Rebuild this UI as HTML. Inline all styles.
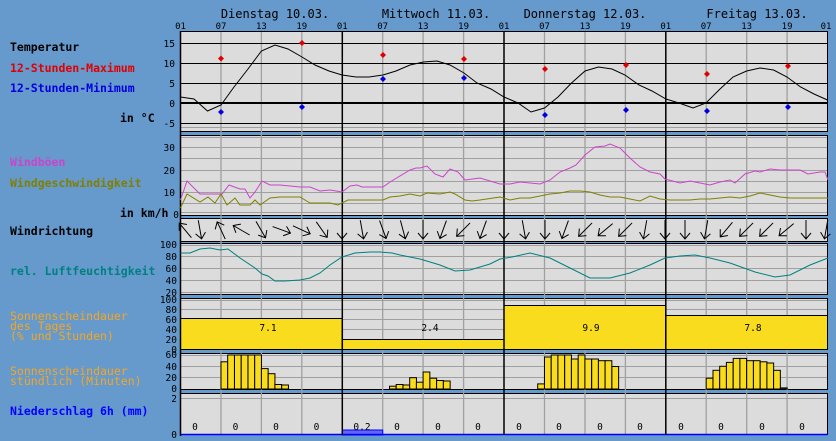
<!DOCTYPE html>
<html><head><meta charset="utf-8"><style>
html,body{margin:0;padding:0;background:#6699cc;}
svg{display:block;}
text{font-family:"DejaVu Sans Mono","Liberation Mono",monospace;}
.lb{font-size:11.5px;font-weight:bold;}
.lo{font-size:11.5px;fill:#f5a623;}
.tk{font-size:9.5px;fill:#000;}
.hr{font-size:9px;fill:#000;}
</style></head><body>
<svg width="836" height="441" viewBox="0 0 836 441" xmlns="http://www.w3.org/2000/svg">
<rect width="836" height="441" fill="#6699cc"/>
<!-- header -->
<g font-size="12" fill="#000">
<text x="275" y="18" text-anchor="middle" font-family="DejaVu Sans Mono">Dienstag 10.03.</text>
<text x="436" y="18" text-anchor="middle" font-family="DejaVu Sans Mono">Mittwoch 11.03.</text>
<text x="585" y="18" text-anchor="middle" font-family="DejaVu Sans Mono">Donnerstag 12.03.</text>
<text x="757" y="18" text-anchor="middle" font-family="DejaVu Sans Mono">Freitag 13.03.</text>
</g>
<g class="hr" text-anchor="middle">
<text x="180.5" y="29" class="hr">01</text><text x="221" y="29" class="hr">07</text><text x="261.4" y="29" class="hr">13</text><text x="301.8" y="29" class="hr">19</text>
<text x="342.3" y="29" class="hr">01</text><text x="382.7" y="29" class="hr">07</text><text x="423.1" y="29" class="hr">13</text><text x="463.6" y="29" class="hr">19</text>
<text x="504" y="29" class="hr">01</text><text x="544.5" y="29" class="hr">07</text><text x="585" y="29" class="hr">13</text><text x="625.4" y="29" class="hr">19</text>
<text x="665.8" y="29" class="hr">01</text><text x="706.2" y="29" class="hr">07</text><text x="746.7" y="29" class="hr">13</text><text x="787.1" y="29" class="hr">19</text>
<text x="826" y="29" class="hr">01</text>
</g>

<!-- left labels -->
<text x="10" y="51" class="lb" fill="#000">Temperatur</text>
<text x="10" y="72" class="lb" fill="#e00000">12-Stunden-Maximum</text>
<text x="10" y="92" class="lb" fill="#0000e0">12-Stunden-Minimum</text>
<text x="120" y="122" class="lb" fill="#000">in °C</text>
<text x="10" y="166" class="lb" fill="#cc44cc">Windböen</text>
<text x="10" y="187" class="lb" fill="#808000">Windgeschwindigkeit</text>
<text x="120" y="217" class="lb" fill="#000">in km/h</text>
<text x="10" y="235" class="lb" fill="#000">Windrichtung</text>
<text x="10" y="275" class="lb" fill="#008080">rel. Luftfeuchtigkeit</text>
<text x="10" y="320" class="lo">Sonnenscheindauer</text>
<text x="10" y="330" class="lo">des Tages</text>
<text x="10" y="340" class="lo">(% und Stunden)</text>
<text x="10" y="375" class="lo">Sonnenscheindauer</text>
<text x="10" y="385" class="lo">stündlich (Minuten)</text>
<text x="10" y="415" class="lb" fill="#0000ff">Niederschlag 6h (mm)</text>

<!-- panel backgrounds -->
<g fill="#dcdcdc" stroke="#000" stroke-width="1">
<rect x="180.5" y="31.5" width="647" height="100"/>
<rect x="180.5" y="135.5" width="647" height="80"/>
<rect x="180.5" y="218.5" width="647" height="23"/>
<rect x="180.5" y="243.5" width="647" height="51"/>
<rect x="180.5" y="298.5" width="647" height="51"/>
<rect x="180.5" y="353.5" width="647" height="36"/>
<rect x="180.5" y="393.5" width="647" height="41"/>
</g>

<!-- horizontal grids -->
<g stroke="#a0a0a0" stroke-width="1">
<line x1="181" x2="827" y1="127.5" y2="127.5"/>
<line x1="181" x2="827" y1="203.5" y2="203.5"/><line x1="181" x2="827" y1="192.5" y2="192.5"/><line x1="181" x2="827" y1="181.5" y2="181.5"/><line x1="181" x2="827" y1="170.5" y2="170.5"/><line x1="181" x2="827" y1="158.5" y2="158.5"/><line x1="181" x2="827" y1="147.5" y2="147.5"/><line x1="181" x2="827" y1="137.5" y2="137.5"/><line x1="181" x2="827" y1="212.5" y2="212.5"/>
<line x1="181" x2="827" y1="256.5" y2="256.5"/><line x1="181" x2="827" y1="268.5" y2="268.5"/><line x1="181" x2="827" y1="280.5" y2="280.5"/><line x1="181" x2="827" y1="292.5" y2="292.5"/><line x1="181" x2="827" y1="245.5" y2="245.5"/>
<line x1="181" x2="827" y1="309.5" y2="309.5"/><line x1="181" x2="827" y1="319.5" y2="319.5"/><line x1="181" x2="827" y1="329.5" y2="329.5"/><line x1="181" x2="827" y1="339.5" y2="339.5"/><line x1="181" x2="827" y1="300.5" y2="300.5"/>
<line x1="181" x2="827" y1="366.5" y2="366.5"/><line x1="181" x2="827" y1="377.5" y2="377.5"/><line x1="181" x2="827" y1="355.5" y2="355.5"/>
<line x1="181" x2="827" y1="398.5" y2="398.5"/>
</g>
<!-- vertical grids gray -->
<g stroke="#a0a0a0" stroke-width="1.3">
<line x1="221" x2="221" y1="32" y2="435"/><line x1="261.4" x2="261.4" y1="32" y2="435"/><line x1="301.8" x2="301.8" y1="32" y2="435"/>
<line x1="382.7" x2="382.7" y1="32" y2="435"/><line x1="423.1" x2="423.1" y1="32" y2="435"/><line x1="463.6" x2="463.6" y1="32" y2="435"/>
<line x1="544.5" x2="544.5" y1="32" y2="435"/><line x1="585" x2="585" y1="32" y2="435"/><line x1="625.4" x2="625.4" y1="32" y2="435"/>
<line x1="706.2" x2="706.2" y1="32" y2="435"/><line x1="746.7" x2="746.7" y1="32" y2="435"/><line x1="787.1" x2="787.1" y1="32" y2="435"/>
</g>
<!-- temp grid black -->
<g stroke="#000" stroke-width="1">
<line x1="181" x2="827" y1="43.5" y2="43.5"/><line x1="181" x2="827" y1="63.5" y2="63.5"/><line x1="181" x2="827" y1="83.5" y2="83.5"/><line x1="181" x2="827" y1="123.5" y2="123.5"/>
<line x1="181" x2="827" y1="103" y2="103" stroke-width="2"/>
</g>

<!-- sunshine daily bars -->
<g fill="#fadc1e" stroke="#000" stroke-width="1">
<rect x="180.5" y="318.5" width="161.8" height="31"/>
<rect x="342.3" y="339.5" width="161.7" height="10"/>
<rect x="504" y="305.5" width="161.8" height="44"/>
<rect x="665.8" y="315.5" width="161.7" height="34"/>
</g>
<g font-size="9.5" text-anchor="middle" fill="#000">
<text x="268" y="331" font-family="DejaVu Sans Mono">7.1</text>
<text x="430" y="331" font-family="DejaVu Sans Mono">2.4</text>
<text x="591" y="331" font-family="DejaVu Sans Mono">9.9</text>
<text x="753" y="331" font-family="DejaVu Sans Mono">7.8</text>
</g>

<!-- hourly sunshine bars -->
<g fill="#fadc1e" stroke="#000" stroke-width="1">
<rect x="221" y="361.8" width="6.74" height="27.2"/><rect x="227.7" y="355" width="6.74" height="34"/><rect x="234.5" y="355" width="6.74" height="34"/><rect x="241.2" y="355" width="6.74" height="34"/><rect x="248" y="355" width="6.74" height="34"/><rect x="254.7" y="355" width="6.74" height="34"/><rect x="261.4" y="368.6" width="6.74" height="20.4"/><rect x="268.2" y="373.7" width="6.74" height="15.3"/><rect x="274.9" y="384.5" width="6.74" height="4.5"/><rect x="281.7" y="385" width="6.74" height="4"/>
<rect x="389.5" y="386.2" width="6.74" height="2.8"/><rect x="396.2" y="384.5" width="6.74" height="4.5"/><rect x="403" y="385" width="6.74" height="4"/><rect x="409.7" y="377.7" width="6.74" height="11.3"/><rect x="416.4" y="382.2" width="6.74" height="6.8"/><rect x="423.1" y="372" width="6.74" height="17"/><rect x="429.9" y="378.2" width="6.74" height="10.8"/><rect x="436.6" y="380.5" width="6.74" height="8.5"/><rect x="443.4" y="381" width="6.74" height="8"/>
<rect x="537.7" y="383.9" width="6.74" height="5.1"/><rect x="544.5" y="357" width="6.74" height="32"/><rect x="551.2" y="355" width="6.74" height="34"/><rect x="557.9" y="355" width="6.74" height="34"/><rect x="564.7" y="355" width="6.74" height="34"/><rect x="571.4" y="359" width="6.74" height="30"/><rect x="578.2" y="355" width="6.74" height="34"/><rect x="584.9" y="359" width="6.74" height="30"/><rect x="591.7" y="359" width="6.74" height="30"/><rect x="598.4" y="360.7" width="6.74" height="28.3"/><rect x="605.1" y="360.7" width="6.74" height="28.3"/><rect x="611.9" y="366.5" width="6.74" height="22.5"/>
<rect x="706.2" y="378.2" width="6.74" height="10.8"/><rect x="713" y="370.3" width="6.74" height="18.7"/><rect x="719.7" y="366.3" width="6.74" height="22.7"/><rect x="726.4" y="362.4" width="6.74" height="26.6"/><rect x="733.2" y="358.4" width="6.74" height="30.6"/><rect x="739.9" y="358.4" width="6.74" height="30.6"/><rect x="746.7" y="360.7" width="6.74" height="28.3"/><rect x="753.4" y="360.7" width="6.74" height="28.3"/><rect x="760.2" y="361.8" width="6.74" height="27.2"/><rect x="766.9" y="363" width="6.74" height="26"/><rect x="773.6" y="370.3" width="6.74" height="18.7"/><rect x="780.4" y="387.9" width="6.74" height="1.1"/>
</g>

<!-- precipitation -->
<rect x="342.3" y="430" width="40.4" height="5" fill="#6666ff" stroke="#0000ff" stroke-width="1"/>
<line x1="180.5" x2="827.5" y1="434.5" y2="434.5" stroke="#0000ff" stroke-width="1.5"/>
<g font-size="9.5" text-anchor="middle" fill="#000" font-family="DejaVu Sans Mono">
<text x="195" y="430">0</text><text x="235.5" y="430">0</text><text x="276" y="430">0</text><text x="316.5" y="430">0</text>
<text x="362" y="430">0.2</text><text x="397" y="430">0</text><text x="438" y="430">0</text><text x="478" y="430">0</text>
<text x="519" y="430">0</text><text x="559" y="430">0</text><text x="600" y="430">0</text><text x="640" y="430">0</text>
<text x="681" y="430">0</text><text x="721" y="430">0</text><text x="762" y="430">0</text><text x="802" y="430">0</text>
</g>

<!-- day boundary lines -->
<g stroke="#000" stroke-width="1.5">
<line x1="342.3" x2="342.3" y1="31" y2="435"/><line x1="504" x2="504" y1="31" y2="435"/><line x1="665.8" x2="665.8" y1="31" y2="435"/>
<line x1="180.5" x2="180.5" y1="31" y2="436"/>
</g>

<!-- temperature curve -->
<polyline fill="none" stroke="#000" stroke-width="1" points="180.5,97 194,99 207.5,111 221,105 234,87 248,69 261.4,51 275,45 288,49 302,57 315,65 329,71 342,75 356,77 369,77 383,75 396,71 410,65 423.5,62 437,61 450,65 464,73 477,83 491,89 504,97 518,103 531,112 544.5,108 558,97 571.5,83 585,71 598.5,67 612,69 625,75 639,85 652,91 666,99 679,103 693,108 706,103 720,89 733,77 746.6,71 760,68 773.6,70 787,77 800.6,87 814,94 827.5,100"/>
<!-- markers -->
<g fill="#e00000">
<path d="M221,55.5 l3,3 -3,3 -3,-3z"/><path d="M302,40 l3,3 -3,3 -3,-3z"/><path d="M383,52 l3,3 -3,3 -3,-3z"/><path d="M464,56 l3,3 -3,3 -3,-3z"/><path d="M545,66 l3,3 -3,3 -3,-3z"/><path d="M626,62 l3,3 -3,3 -3,-3z"/><path d="M707,71 l3,3 -3,3 -3,-3z"/><path d="M788,63 l3,3 -3,3 -3,-3z"/>
</g>
<g fill="#0000e0">
<path d="M221,109 l3,3 -3,3 -3,-3z"/><path d="M302,104 l3,3 -3,3 -3,-3z"/><path d="M383,76 l3,3 -3,3 -3,-3z"/><path d="M464,75 l3,3 -3,3 -3,-3z"/><path d="M545,112 l3,3 -3,3 -3,-3z"/><path d="M626,107 l3,3 -3,3 -3,-3z"/><path d="M707,108 l3,3 -3,3 -3,-3z"/><path d="M788,104 l3,3 -3,3 -3,-3z"/>
</g>

<!-- wind -->
<polyline fill="none" stroke="#cc44cc" stroke-width="1" points="180.5,200 187,181 200,194 215,194 222,194 229,185 240,189 245,189 250,198 255,192 262,181 270,185 280,185 300,187 310,187 320,191 330,190 342,192 350,186 357,185 362,187 383,187 390,182 410,170 416,168 420,168 427,166 435,174 443,177 450,169 458,172 465,180 480,178 500,184 510,184 520,182 540,184 550,180 560,172 570,168 576,165 585,155 595,147 605,146 610,144 620,148 630,158 640,167 650,172 660,174 665,179 680,183 690,181 700,183 710,185 720,182 730,180 735,183 745,174 755,171 760,172 770,169 780,170 800,170 808,174 820,172 825,172 828,180"/>
<polyline fill="none" stroke="#808000" stroke-width="1" points="180.5,208 187,194 200,202 208,197 215,203 221,194 227,205 235,198 240,205 250,205 255,200 260,205 270,198 280,197 300,197 310,203 330,203 338,205 348,200 383,200 390,197 400,196 410,194 420,196 427,193 440,194 450,192 455,194 465,200 472,201 480,200 500,197 510,200 520,198 530,198 540,196 550,194 560,193 570,191 580,191 590,192 600,195 610,197 620,197 630,199 640,201 650,196 660,199 670,200 680,200 690,200 700,199 710,199 720,198 730,197 740,198 750,196 760,193 770,195 780,197 790,198 800,198 828,198"/>

<!-- humidity -->
<polyline fill="none" stroke="#008080" stroke-width="1" points="180.5,253 190,253 200,249 210,248 220,250 228,249 240,258 255,268 262,274 268,276 275,281 285,281 300,280 310,278 320,273 330,265 342,257 355,253 370,252 380,252 392,253 400,255 420,259 440,265 455,271 470,270 490,264 500,259 512,257 530,253 550,258 570,268 590,278 610,278 630,273 650,265 665,258 680,256 695,255 710,258 730,263 755,272 775,277 790,275 810,265 828,258"/>

<!-- wind direction arrows -->
<defs><g id="ar" stroke="#000" stroke-width="1" fill="none"><path d="M0,-10 L0,9 M-5,3 L0,9 L5,3"/></g></defs>
<use href="#ar" transform="translate(185,230) rotate(140)"/>
<use href="#ar" transform="translate(200,230) rotate(-10)"/>
<use href="#ar" transform="translate(221,230) rotate(155)"/>
<use href="#ar" transform="translate(241,230) rotate(120)"/>
<use href="#ar" transform="translate(261,230) rotate(-30)"/>
<use href="#ar" transform="translate(282,230) rotate(-70)"/>
<use href="#ar" transform="translate(302,230) rotate(-65)"/>
<use href="#ar" transform="translate(322,230) rotate(-35)"/>
<use href="#ar" transform="translate(342,230) rotate(0)"/>
<use href="#ar" transform="translate(362,230) rotate(-10)"/>
<use href="#ar" transform="translate(383,230) rotate(-20)"/>
<use href="#ar" transform="translate(403,230) rotate(-15)"/>
<use href="#ar" transform="translate(423,230) rotate(0)"/>
<use href="#ar" transform="translate(443,230) rotate(20)"/>
<use href="#ar" transform="translate(463,230) rotate(45)"/>
<use href="#ar" transform="translate(483,230) rotate(20)"/>
<use href="#ar" transform="translate(504,230) rotate(0)"/>
<use href="#ar" transform="translate(524,230) rotate(-10)"/>
<use href="#ar" transform="translate(545,230) rotate(0)"/>
<use href="#ar" transform="translate(565,230) rotate(20)"/>
<use href="#ar" transform="translate(585,230) rotate(45)"/>
<use href="#ar" transform="translate(605,230) rotate(50)"/>
<use href="#ar" transform="translate(625,230) rotate(45)"/>
<use href="#ar" transform="translate(645,230) rotate(10)"/>
<use href="#ar" transform="translate(665,230) rotate(0)"/>
<use href="#ar" transform="translate(685,230) rotate(0)"/>
<use href="#ar" transform="translate(706,230) rotate(10)"/>
<use href="#ar" transform="translate(726,230) rotate(40)"/>
<use href="#ar" transform="translate(746,230) rotate(45)"/>
<use href="#ar" transform="translate(766,230) rotate(45)"/>
<use href="#ar" transform="translate(786,230) rotate(50)"/>
<use href="#ar" transform="translate(806,230) rotate(0)"/>
<use href="#ar" transform="translate(826,230) rotate(10)"/>

<!-- axis tick labels -->
<g class="tk" text-anchor="end" font-family="DejaVu Sans Mono" font-size="9.5">
<text x="175" y="47">15</text><text x="175" y="67">10</text><text x="175" y="87">5</text><text x="175" y="107">0</text><text x="175" y="127">-5</text>
<text x="175" y="151">30</text><text x="175" y="174">20</text><text x="175" y="196">10</text><text x="179" y="218">0</text>
<text x="177" y="248">100</text><text x="177" y="260">80</text><text x="177" y="272">60</text><text x="177" y="284">40</text><text x="177" y="296">20</text>
<text x="177" y="303">100</text><text x="177" y="313">80</text><text x="177" y="323">60</text><text x="177" y="333">40</text><text x="177" y="343">20</text><text x="177" y="353">0</text>
<text x="177" y="358">60</text><text x="177" y="381">20</text><text x="177" y="370">40</text><text x="177" y="392">0</text>
<text x="177" y="402">2</text><text x="177" y="438">0</text>
</g>
</svg>
</body></html>
